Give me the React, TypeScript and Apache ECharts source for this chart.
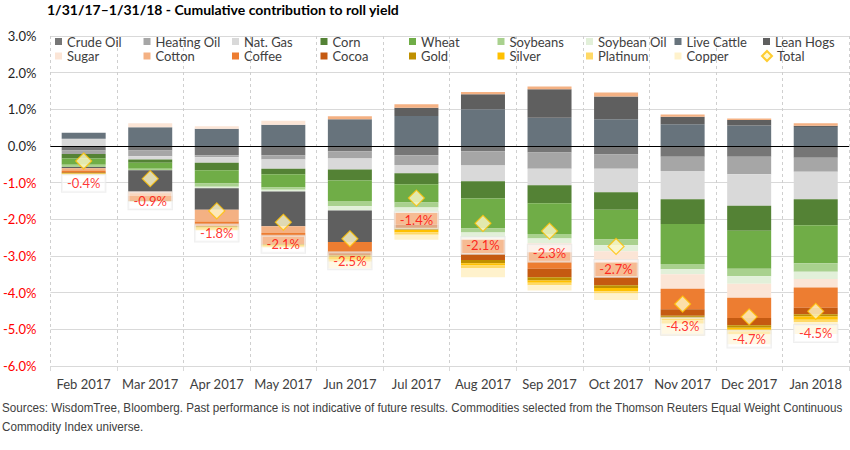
import { useEffect, useRef } from "react";
import * as echarts from "echarts";

// Monthly cumulative contribution to roll yield, in percent
const months = [
  "Feb 2017", "Mar 2017", "Apr 2017", "May 2017", "Jun 2017", "Jul 2017",
  "Aug 2017", "Sep 2017", "Oct 2017", "Nov 2017", "Dec 2017", "Jan 2018",
];

const crudeOil = [-0.12, -0.12, -0.25, -0.25, -0.14, -0.25, -0.14, -0.18, -0.23, -0.29, -0.29, -0.32];
const heatingOil = [-0.10, -0.16, -0.06, -0.12, -0.20, -0.27, -0.39, -0.44, -0.39, -0.39, -0.48, -0.38];
const natGas = [0.20, -0.09, -0.15, -0.25, -0.30, -0.22, -0.43, -0.45, -0.64, -0.77, -0.86, -0.75];
const corn = [-0.12, -0.09, -0.20, -0.15, -0.30, -0.30, -0.47, -0.49, -0.48, -0.68, -0.68, -0.71];
const wheat = [-0.17, -0.16, -0.36, -0.36, -0.56, -0.50, -0.82, -0.84, -0.81, -1.09, -1.04, -1.04];
const soybeans = [-0.06, -0.04, -0.09, -0.06, -0.14, -0.14, -0.11, -0.12, -0.16, -0.14, -0.20, -0.23];
const soybeanOil = [0, 0, -0.04, -0.05, -0.12, -0.14, -0.16, -0.13, -0.16, -0.14, -0.21, -0.20];
const liveCattle = [0.16, 0.51, 0.47, 0.58, 0.73, 0.82, 1.00, 0.77, 0.73, 0.59, 0.56, 0.52];
const leanHogs = [-0.04, -0.59, -0.59, -0.95, -0.86, 0.22, 0.41, 0.78, 0.62, 0.21, 0.15, 0.03];
const sugar = [0, 0.11, 0.07, 0.11, 0, 0, -0.04, -0.25, -0.31, -0.39, -0.38, -0.23];
const cotton = [-0.06, -0.11, -0.32, -0.18, 0.08, 0.10, 0.06, 0.07, 0.11, 0.06, 0.04, 0.07];
const coffee = [-0.04, -0.11, -0.12, -0.31, -0.27, -0.33, -0.37, -0.45, -0.39, -0.56, -0.55, -0.55];
const cocoa = [-0.02, -0.02, 0, 0, -0.09, -0.09, -0.18, -0.23, -0.23, -0.18, -0.20, -0.18];
const gold = [-0.02, -0.02, -0.04, -0.03, -0.05, -0.05, -0.09, -0.09, -0.07, -0.07, -0.07, -0.06];
const silver = [-0.02, 0, -0.04, -0.03, -0.07, -0.06, -0.06, -0.06, -0.09, -0.06, -0.07, -0.09];
const platinum = [0, 0, -0.03, -0.02, -0.06, -0.07, -0.07, -0.07, -0.06, -0.09, -0.11, -0.07];
const copper = [0, 0, -0.02, -0.01, -0.18, -0.14, -0.25, -0.14, -0.18, -0.32, -0.27, -0.32];
const totals = [-0.41, -0.89, -1.77, -2.08, -2.53, -1.42, -2.11, -2.32, -2.74, -4.31, -4.66, -4.51];

const yTicks = [-6, -5, -4, -3, -2, -1, 0, 1, 2, 3];

const commodities: [string, number[]][] = [
  ["Crude Oil", crudeOil],
  ["Heating Oil", heatingOil],
  ["Nat. Gas", natGas],
  ["Corn", corn],
  ["Wheat", wheat],
  ["Soybeans", soybeans],
  ["Soybean Oil", soybeanOil],
  ["Live Cattle", liveCattle],
  ["Lean Hogs", leanHogs],
  ["Sugar", sugar],
  ["Cotton", cotton],
  ["Coffee", coffee],
  ["Cocoa", cocoa],
  ["Gold", gold],
  ["Silver", silver],
  ["Platinum", platinum],
  ["Copper", copper],
];

const palette: Record<string, string> = {
  "Crude Oil": "#767676",
  "Heating Oil": "#a6a6a6",
  "Nat. Gas": "#d9d9d9",
  Corn: "#548235",
  Wheat: "#70ad47",
  Soybeans: "#a9d18e",
  "Soybean Oil": "#e2f0d9",
  "Live Cattle": "#67737c",
  "Lean Hogs": "#5f5f5f",
  Sugar: "#fbe5d6",
  Cotton: "#f4b183",
  Coffee: "#ed7d31",
  Cocoa: "#c55a11",
  Gold: "#bf9000",
  Silver: "#ffc000",
  Platinum: "#ffd966",
  Copper: "#fff2cc",
};

const FONT = "Lato, 'Noto Sans', sans-serif";
const NOTE_FONT = "'Liberation Sans', Arial, sans-serif";
const TEXT = "#404040";

const noteLines = [
  "Sources: WisdomTree, Bloomberg. Past performance is not indicative of future results. Commodities selected from the Thomson Reuters Equal Weight Continuous",
  "Commodity Index universe.",
];

export default function App() {
  const ref = useRef<HTMLDivElement>(null);

  useEffect(() => {
    if (!ref.current) return;
    const chart = echarts.init(ref.current, undefined, { renderer: "svg" });

    const legendNames = [...commodities.map(([n]) => n), "Total"];
    const legends = legendNames.map((name, i) => {
      const row = Math.floor(i / 9);
      const col = i % 9;
      const isTotal = name === "Total";
      return {
        data: [name],
        left: 55 + col * 88.5 - (isTotal ? 2 : 0),
        top: 35 + row * 14.5,
        padding: 0,
        icon: isTotal ? "diamond" : "rect",
        itemWidth: isTotal ? 10 : 7,
        itemHeight: isTotal ? 10 : 7,
        selectedMode: false,
        textStyle: { fontFamily: FONT, fontSize: 13, color: TEXT },
      };
    });

    const barSeries = commodities.map(([name, values]) => ({
      name,
      type: "bar",
      stack: "roll",
      barWidth: 44,
      data: values,
      itemStyle: { color: palette[name] },
    }));

    const option: any = {
      animation: false,
      backgroundColor: "#ffffff",
      title: {
        text: "1/31/17\u20131/31/18 - Cumulative contribution to roll yield",
        left: 47,
        top: 2,
        padding: 0,
        textStyle: { fontFamily: FONT, fontWeight: "bold", fontSize: 14, color: "#000" },
      },
      legend: legends,
      grid: { left: 49, right: 1, top: 36, bottom: 84, containLabel: false },
      xAxis: {
        type: "category",
        data: months,
        boundaryGap: true,
        axisLine: { show: true, onZero: false, lineStyle: { color: "#d9d9d9" } },
        axisTick: { show: true, length: 5, lineStyle: { color: "#d9d9d9" } },
        axisLabel: { interval: 0, fontFamily: FONT, fontSize: 13, color: TEXT, margin: 11 },
        splitLine: { show: true, interval: 0, lineStyle: { color: "#cfcfcf", type: [3, 3] } },
      },
      yAxis: {
        type: "value",
        min: yTicks[0],
        max: yTicks[yTicks.length - 1],
        interval: 1,
        axisLine: { show: false },
        axisTick: { show: false },
        axisLabel: {
          fontFamily: FONT,
          fontSize: 13,
          margin: 14,
          formatter: (v: number) => v.toFixed(1) + "%",
          color: (v: any) => (Number(v) < 0 ? "#ff0000" : "#1f1f1f"),
        },
        splitLine: { show: true, lineStyle: { color: "#d9d9d9", width: 1 } },
      },
      series: [
        ...barSeries,
        {
          name: "Total",
          type: "scatter",
          z: 5,
          data: totals,
          symbol: "diamond",
          symbolSize: 16,
          itemStyle: { color: "#fff8c8", borderColor: "#ffc000", borderWidth: 1.2 },
          label: {
            show: true,
            position: "bottom",
            distance: 5,
            formatter: (p: any) => Number(p.value).toFixed(1) + "%",
            fontFamily: FONT,
            fontSize: 13,
            color: "#ff0000",
            backgroundColor: "rgba(255,255,255,0.6)",
            borderColor: "rgba(230,230,230,0.8)",
            borderWidth: 1,
            padding: [2, 5],
          },
          markLine: {
            silent: true,
            symbol: "none",
            label: { show: false },
            lineStyle: { color: "#000", width: 1, type: "solid" },
            data: [{ yAxis: 0 }],
          },
        },
      ],
      graphic: noteLines.map((text, i) => ({
        type: "text",
        x: 2,
        y: 402 + i * 19,
        scaleX: 0.972,
        style: {
          text,
          fontFamily: NOTE_FONT,
          fontSize: 12,
          verticalAlign: "top",
          fill: TEXT,
        },
      })),
    };

    chart.setOption(option);
    return () => chart.dispose();
  }, []);

  return (
    <div
      ref={ref}
      style={{ position: "fixed", left: 0, top: 0, width: 850, height: 450, background: "#fff" }}
    />
  );
}
